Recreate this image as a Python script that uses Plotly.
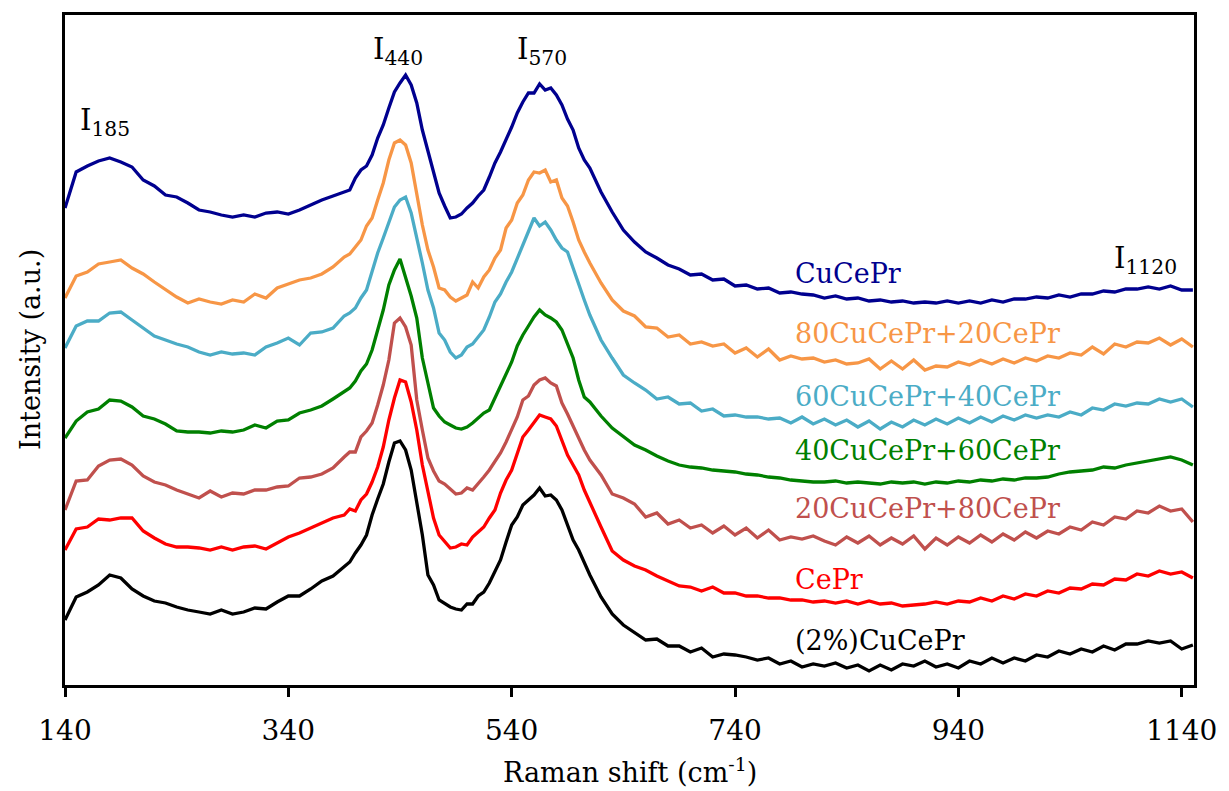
import plotly.graph_objects as go

# Raman shift sampling grid (cm-1)
raman_shift = list(range(140, 390, 10)) + list(range(390, 615, 5)) + list(range(620, 1160, 10))

# Intensities (a.u., stacked/offset as in the figure)
cucepr = [477, 513, 519, 524, 527, 523, 518, 505, 499, 490, 488, 482, 475, 473, 470, 468, 470, 468, 472, 473, 471, 475, 480, 485, 489,
          493, 495, 507, 515, 519, 530, 547, 560, 577, 593, 602, 610, 600, 582, 555, 533, 512, 492, 479, 467, 468, 471, 477, 482, 489,
          495, 508, 522, 533, 545, 558, 572, 583, 592, 592, 601, 595, 597, 590, 580, 566, 555, 537, 525, 517,
          493, 473, 455, 443, 433, 427, 420, 416, 410, 411, 405, 406, 399, 400, 396, 397, 392, 393, 391, 390,
          387, 389, 386, 387, 384, 385, 383, 384, 382, 383, 382, 384, 382, 384, 382, 385, 383, 386, 386, 388,
          387, 390, 388, 391, 391, 394, 393, 396, 396, 398, 396, 399, 395, 395]

mix_80_20 = [387, 409, 413, 421, 423, 425, 417, 411, 403, 395, 388, 382, 386, 383, 381, 385, 383, 391, 387, 397, 401, 405, 407, 411, 418,
             428, 431, 438, 445, 459, 467, 485, 502, 525, 542, 545, 540, 522, 492, 460, 435, 418, 397, 395, 388, 384, 387, 390, 403, 397,
             408, 415, 427, 435, 457, 465, 482, 490, 505, 513, 512, 515, 503, 505, 487, 479, 463, 445, 433, 422,
             402, 385, 374, 369, 358, 357, 348, 350, 341, 343, 339, 341, 332, 337, 328, 336, 325, 329, 326, 327,
             323, 325, 321, 322, 326, 316, 324, 316, 325, 315, 319, 318, 323, 320, 325, 321, 326, 322, 327, 324,
             329, 327, 332, 330, 338, 331, 341, 338, 343, 342, 347, 340, 346, 338]

mix_60_40 = [337, 359, 364, 364, 372, 373, 365, 357, 349, 345, 341, 338, 333, 330, 333, 331, 332, 330, 338, 342, 347, 340, 352, 353, 357,
             369, 372, 377, 387, 395, 415, 432, 447, 463, 478, 485, 488, 472, 448, 422, 395, 377, 352, 345, 333, 327, 330, 338, 341, 348,
             355, 368, 383, 391, 403, 413, 427, 440, 454, 467, 459, 463, 455, 445, 437, 433, 417, 400, 385, 370,
             345, 327, 310, 302, 295, 286, 288, 281, 282, 274, 276, 269, 270, 268, 268, 266, 267, 262, 268, 261,
             266, 260, 265, 258, 264, 256, 263, 258, 265, 260, 266, 261, 267, 262, 268, 263, 269, 265, 270, 267,
             270, 268, 273, 270, 277, 275, 281, 279, 282, 281, 286, 283, 286, 278]

mix_40_60 = [247, 264, 273, 276, 285, 284, 278, 269, 266, 261, 254, 253, 253, 252, 254, 253, 255, 260, 257, 264, 265, 272, 275, 279, 286,
             294, 297, 304, 314, 321, 335, 355, 375, 400, 415, 426, 408, 389, 367, 327, 302, 277, 269, 263, 260, 257, 256, 258, 262, 267,
             272, 275, 287, 298, 310, 323, 339, 350, 359, 368, 375, 370, 367, 363, 355, 340, 327, 305, 288, 283,
             269, 257, 248, 240, 235, 229, 224, 220, 218, 217, 215, 214, 213, 211, 210, 208, 207, 205, 204, 203,
             203, 204, 202, 203, 202, 201, 203, 202, 203, 201, 203, 202, 204, 203, 205, 204, 206, 205, 207, 207,
             208, 211, 213, 214, 215, 218, 217, 220, 222, 224, 226, 228, 225, 220]

mix_20_80 = [175, 204, 205, 219, 225, 226, 220, 209, 203, 200, 195, 191, 187, 194, 188, 192, 191, 195, 195, 198, 199, 207, 208, 211, 217,
             228, 233, 233, 248, 254, 262, 280, 300, 325, 362, 367, 358, 340, 285, 255, 227, 214, 204, 201, 196, 191, 192, 197, 195, 201,
             208, 215, 223, 232, 243, 255, 268, 285, 289, 300, 305, 307, 302, 299, 282, 271, 259, 247, 235, 225,
             210, 191, 187, 181, 168, 172, 161, 165, 157, 160, 152, 159, 150, 157, 147, 155, 145, 148, 146, 149,
             144, 140, 148, 142, 149, 140, 147, 141, 149, 136, 147, 140, 148, 142, 150, 143, 151, 145, 153, 147,
             154, 151, 158, 155, 163, 160, 168, 166, 174, 172, 179, 174, 176, 163]

cepr = [135, 156, 158, 166, 165, 167, 167, 154, 147, 141, 138, 138, 137, 135, 138, 135, 138, 139, 136, 142, 148, 152, 157, 162, 167,
        170, 176, 174, 185, 191, 203, 218, 238, 265, 287, 305, 303, 283, 255, 220, 195, 167, 150, 143, 137, 138, 141, 140, 148, 153,
        158, 167, 175, 192, 205, 215, 232, 248, 255, 262, 270, 268, 266, 259, 245, 230, 220, 210, 195, 182,
        158, 134, 125, 119, 115, 109, 104, 99, 98, 94, 98, 92, 92, 89, 89, 87, 87, 85, 85, 83,
        84, 82, 84, 81, 84, 81, 82, 79, 80, 81, 83, 81, 84, 83, 87, 84, 89, 86, 91, 89,
        94, 92, 97, 96, 101, 100, 106, 105, 111, 109, 114, 111, 113, 107]

cucepr_2pct = [65, 88, 93, 100, 110, 107, 96, 89, 84, 82, 78, 75, 73, 71, 75, 71, 73, 77, 76, 83, 89, 89, 96, 104, 109,
               118, 123, 132, 140, 150, 170, 186, 201, 223, 242, 244, 235, 215, 182, 150, 110, 100, 85, 81, 78, 76, 75, 81, 81, 89,
               93, 102, 113, 125, 143, 160, 168, 180, 185, 190, 197, 189, 190, 185, 175, 160, 145, 135, 123, 110,
               88, 71, 60, 52, 45, 46, 39, 39, 33, 37, 28, 31, 30, 28, 25, 27, 21, 24, 18, 21,
               19, 22, 17, 20, 14, 20, 15, 21, 19, 24, 18, 21, 17, 24, 21, 27, 22, 27, 24, 30,
               28, 34, 31, 36, 33, 39, 35, 41, 41, 44, 42, 44, 36, 40]

series_names = ["CuCePr", "80CuCePr+20CePr", "60CuCePr+40CePr", "40CuCePr+60CePr",
                "20CuCePr+80CePr", "CePr", "(2%)CuCePr"]
series_values = [cucepr, mix_80_20, mix_60_40, mix_40_60, mix_20_80, cepr, cucepr_2pct]
series_colors = ["#00008F", "#F79646", "#4BACC6", "#008000", "#C0504D", "#FF0000", "#000000"]

# label placement (x in cm-1, y in a.u.)
label_x = 792
label_y = [412, 352, 289, 235, 177, 106, 45]

peak_labels = ["I<sub>185</sub>", "I<sub>440</sub>", "I<sub>570</sub>", "I<sub>1120</sub>"]
peak_label_x = [176, 438, 567, 1108]
peak_label_y = [563, 634, 634, 425]

tick_vals = [140, 340, 540, 740, 940, 1140]

FONT = "DejaVu Serif"

fig = go.Figure()
for name, vals, col in zip(series_names, series_values, series_colors):
    fig.add_trace(go.Scatter(x=raman_shift, y=vals, mode="lines", name=name,
                             line=dict(color=col, width=3.3), showlegend=False,
                             hoverinfo="skip"))

for name, col, ly in zip(series_names, series_colors, label_y):
    fig.add_annotation(x=label_x, y=ly, xref="x", yref="y", text=name, showarrow=False,
                       xanchor="left", yanchor="middle",
                       font=dict(family=FONT, size=27, color=col))

for txt, px, py in zip(peak_labels, peak_label_x, peak_label_y):
    fig.add_annotation(x=px, y=py, xref="x", yref="y", text=txt, showarrow=False,
                       xanchor="center", yanchor="middle",
                       font=dict(family=FONT, size=29, color="black"))

fig.add_annotation(x=0.5, y=-0.127, xref="paper", yref="paper",
                   text="Raman shift (cm<sup>-1</sup>)", showarrow=False,
                   xanchor="center", yanchor="middle",
                   font=dict(family=FONT, size=27, color="black"))
fig.add_annotation(x=-0.031, y=0.5, xref="paper", yref="paper",
                   text="Intensity (a.u.)", showarrow=False, textangle=-90,
                   xanchor="center", yanchor="middle",
                   font=dict(family=FONT, size=27, color="black"))

fig.update_layout(
    width=1229, height=791,
    margin=dict(l=65, r=28, t=15, b=106),
    plot_bgcolor="white", paper_bgcolor="white",
    font=dict(family=FONT, color="black"),
    showlegend=False,
)
fig.update_xaxes(range=[140, 1151], tickvals=tick_vals, ticks="outside", ticklen=9,
                 tickwidth=2.5, tickcolor="black", showline=True, linewidth=3,
                 linecolor="black", mirror=True, showgrid=False, zeroline=False,
                 ticklabelstandoff=9,
                 tickfont=dict(family=FONT, size=28, color="black"))
fig.update_yaxes(range=[0, 670], showticklabels=False, ticks="", showline=True,
                 linewidth=3, linecolor="black", mirror=True, showgrid=False,
                 zeroline=False)

fig.write_html("out.html")
